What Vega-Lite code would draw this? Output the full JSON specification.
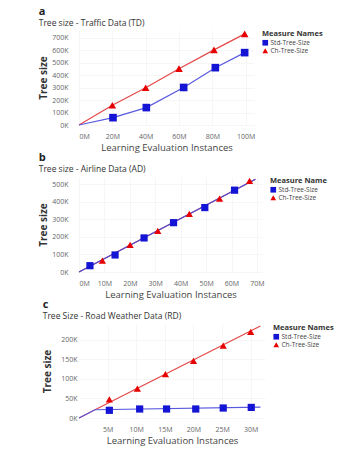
{
  "$schema": "https://vega.github.io/schema/vega-lite/v6.json",
  "background": "white",
  "padding": {"left": 38, "top": 5, "right": 2, "bottom": 2},
  "config": {
    "font": "Open Sans",
    "view": {"stroke": null},
    "axis": {
      "domain": false,
      "ticks": false,
      "labelColor": "#666666",
      "labelFontSize": 7,
      "gridColor": "#f4f4f4",
      "gridWidth": 0.8,
      "titleColor": "#333333",
      "titleFontWeight": "bold"
    },
    "axisX": {"titleFontSize": 9.5, "titleFontWeight": 500, "titleColor": "#444444", "labelPadding": 7, "titlePadding": 3},
    "axisY": {"titleFontSize": 10, "titlePadding": 3},
    "legend": {
      "titleFontSize": 7.5,
      "titleColor": "#333333",
      "titleFontWeight": "bold",
      "labelFontSize": 6.5,
      "labelColor": "#444444",
      "symbolSize": 32,
      "rowPadding": 1,
      "titlePadding": 2,
      "offset": 8,
      "labelOffset": 2,
      "symbolStrokeWidth": 0
    },
    "title": {
      "anchor": "start",
      "frame": "bounds",
      "fontSize": 11,
      "fontWeight": "bold",
      "color": "#222222",
      "subtitleFontSize": 8.5,
      "subtitleColor": "#333333",
      "subtitlePadding": 2,
      "offset": 3
    }
  },
  "datasets": {
    "points": [
      {"panel": "a", "series": "Std-Tree-Size", "instances": 20400000, "size": 59000},
      {"panel": "a", "series": "Std-Tree-Size", "instances": 40400000, "size": 140000},
      {"panel": "a", "series": "Std-Tree-Size", "instances": 62800000, "size": 302000},
      {"panel": "a", "series": "Std-Tree-Size", "instances": 81800000, "size": 461000},
      {"panel": "a", "series": "Std-Tree-Size", "instances": 99400000, "size": 582000},
      {"panel": "a", "series": "Ch-Tree-Size", "instances": 20000000, "size": 159000},
      {"panel": "a", "series": "Ch-Tree-Size", "instances": 40000000, "size": 299000},
      {"panel": "a", "series": "Ch-Tree-Size", "instances": 60000000, "size": 453000},
      {"panel": "a", "series": "Ch-Tree-Size", "instances": 81000000, "size": 604000},
      {"panel": "a", "series": "Ch-Tree-Size", "instances": 99400000, "size": 733000},
      {"panel": "b", "series": "Std-Tree-Size", "instances": 4300000, "size": 36000},
      {"panel": "b", "series": "Std-Tree-Size", "instances": 14200000, "size": 97000},
      {"panel": "b", "series": "Std-Tree-Size", "instances": 25600000, "size": 194000},
      {"panel": "b", "series": "Std-Tree-Size", "instances": 37200000, "size": 281000},
      {"panel": "b", "series": "Std-Tree-Size", "instances": 49500000, "size": 367000},
      {"panel": "b", "series": "Std-Tree-Size", "instances": 61200000, "size": 466000},
      {"panel": "b", "series": "Ch-Tree-Size", "instances": 9200000, "size": 65000},
      {"panel": "b", "series": "Ch-Tree-Size", "instances": 20100000, "size": 154000},
      {"panel": "b", "series": "Ch-Tree-Size", "instances": 31000000, "size": 234000},
      {"panel": "b", "series": "Ch-Tree-Size", "instances": 43400000, "size": 331000},
      {"panel": "b", "series": "Ch-Tree-Size", "instances": 55300000, "size": 418000},
      {"panel": "b", "series": "Ch-Tree-Size", "instances": 67100000, "size": 519000},
      {"panel": "c", "series": "Std-Tree-Size", "instances": 5300000, "size": 19600},
      {"panel": "c", "series": "Std-Tree-Size", "instances": 10600000, "size": 23000},
      {"panel": "c", "series": "Std-Tree-Size", "instances": 15300000, "size": 23000},
      {"panel": "c", "series": "Std-Tree-Size", "instances": 20400000, "size": 23000},
      {"panel": "c", "series": "Std-Tree-Size", "instances": 25200000, "size": 25500},
      {"panel": "c", "series": "Std-Tree-Size", "instances": 30100000, "size": 27000},
      {"panel": "c", "series": "Ch-Tree-Size", "instances": 5300000, "size": 47700},
      {"panel": "c", "series": "Ch-Tree-Size", "instances": 10200000, "size": 75000},
      {"panel": "c", "series": "Ch-Tree-Size", "instances": 15100000, "size": 112000},
      {"panel": "c", "series": "Ch-Tree-Size", "instances": 20000000, "size": 146000},
      {"panel": "c", "series": "Ch-Tree-Size", "instances": 25200000, "size": 185000},
      {"panel": "c", "series": "Ch-Tree-Size", "instances": 30000000, "size": 220000}
    ],
    "lines": [
      {"panel": "a", "series": "Std-Tree-Size", "instances": 0, "size": 0},
      {"panel": "a", "series": "Std-Tree-Size", "instances": 20400000, "size": 59000},
      {"panel": "a", "series": "Std-Tree-Size", "instances": 40400000, "size": 140000},
      {"panel": "a", "series": "Std-Tree-Size", "instances": 62800000, "size": 302000},
      {"panel": "a", "series": "Std-Tree-Size", "instances": 81800000, "size": 461000},
      {"panel": "a", "series": "Std-Tree-Size", "instances": 99400000, "size": 582000},
      {"panel": "a", "series": "Ch-Tree-Size", "instances": 0, "size": 0},
      {"panel": "a", "series": "Ch-Tree-Size", "instances": 20000000, "size": 159000},
      {"panel": "a", "series": "Ch-Tree-Size", "instances": 40000000, "size": 299000},
      {"panel": "a", "series": "Ch-Tree-Size", "instances": 60000000, "size": 453000},
      {"panel": "a", "series": "Ch-Tree-Size", "instances": 81000000, "size": 604000},
      {"panel": "a", "series": "Ch-Tree-Size", "instances": 99400000, "size": 733000},
      {"panel": "b", "series": "Ch-Tree-Size", "instances": 0, "size": 0},
      {"panel": "b", "series": "Ch-Tree-Size", "instances": 69400000, "size": 528000},
      {"panel": "b", "series": "Std-Tree-Size", "instances": 0, "size": 0},
      {"panel": "b", "series": "Std-Tree-Size", "instances": 69400000, "size": 528000},
      {"panel": "c", "series": "Ch-Tree-Size", "instances": 0, "size": 0},
      {"panel": "c", "series": "Ch-Tree-Size", "instances": 2800000, "size": 21000},
      {"panel": "c", "series": "Ch-Tree-Size", "instances": 31700000, "size": 235000},
      {"panel": "c", "series": "Std-Tree-Size", "instances": 0, "size": 0},
      {"panel": "c", "series": "Std-Tree-Size", "instances": 2800000, "size": 21000},
      {"panel": "c", "series": "Std-Tree-Size", "instances": 31700000, "size": 28000}
    ]
  },
  "vconcat": [
    {
      "title": {"text": "a", "subtitle": "Tree size - Traffic Data (TD)"},
      "width": 175,
      "height": 95,
      "encoding": {
        "x": {"field": "instances", "type": "quantitative", "scale": {"domain": [0, 105000000], "nice": false},
              "axis": {"title": "Learning Evaluation Instances", "values": [0, 20000000, 40000000, 60000000, 80000000, 100000000], "labelExpr": "datum.value / 1000000 + 'M'"}},
        "y": {"field": "size", "type": "quantitative", "scale": {"domain": [0, 764000], "nice": false},
              "axis": {"title": "Tree size", "values": [0, 100000, 200000, 300000, 400000, 500000, 600000, 700000], "labelExpr": "datum.value / 1000 + 'K'", "labelPadding": 11}}
      },
      "layer": [
        {"data": {"name": "lines"}, "transform": [{"filter": "datum.panel == 'a' && datum.series == 'Ch-Tree-Size'"}],
         "mark": {"type": "line", "color": "#e54848", "strokeWidth": 1.2}},
        {"data": {"name": "lines"}, "transform": [{"filter": "datum.panel == 'a' && datum.series == 'Std-Tree-Size'"}],
         "mark": {"type": "line", "color": "#5a5ae0", "strokeWidth": 1.2}},
        {"data": {"name": "points"}, "transform": [{"filter": "datum.panel == 'a'"}],
         "mark": {"type": "point", "filled": true, "opacity": 1, "size": 58},
         "encoding": {
           "color": {"field": "series", "type": "nominal", "title": "Measure Names",
                     "scale": {"domain": ["Std-Tree-Size", "Ch-Tree-Size"], "range": ["#1414d4", "#e60000"]}},
           "shape": {"field": "series", "type": "nominal", "title": "Measure Names",
                     "scale": {"domain": ["Std-Tree-Size", "Ch-Tree-Size"], "range": ["square", "triangle-up"]}}
         }}
      ]
    },
    {
      "title": {"text": "b", "subtitle": "Tree size - Airline Data (AD)"},
      "width": 183,
      "height": 95,
      "encoding": {
        "x": {"field": "instances", "type": "quantitative", "scale": {"domain": [0, 72000000], "nice": false},
              "axis": {"title": "Learning Evaluation Instances", "values": [0, 10000000, 20000000, 30000000, 40000000, 50000000, 60000000, 70000000], "labelExpr": "datum.value / 1000000 + 'M'"}},
        "y": {"field": "size", "type": "quantitative", "scale": {"domain": [0, 541000], "nice": false},
              "axis": {"title": "Tree size", "values": [0, 100000, 200000, 300000, 400000, 500000], "labelExpr": "datum.value / 1000 + 'K'", "labelPadding": 11}}
      },
      "layer": [
        {"data": {"name": "lines"}, "transform": [{"filter": "datum.panel == 'b' && datum.series == 'Ch-Tree-Size'"}],
         "mark": {"type": "line", "color": "#e54848", "strokeWidth": 1.2}},
        {"data": {"name": "lines"}, "transform": [{"filter": "datum.panel == 'b' && datum.series == 'Std-Tree-Size'"}],
         "mark": {"type": "line", "color": "#4a4ad8", "strokeWidth": 1.2}},
        {"data": {"name": "points"}, "transform": [{"filter": "datum.panel == 'b'"}],
         "mark": {"type": "point", "filled": true, "opacity": 1, "size": 52},
         "encoding": {
           "color": {"field": "series", "type": "nominal", "title": "Measure Name",
                     "scale": {"domain": ["Std-Tree-Size", "Ch-Tree-Size"], "range": ["#1414d4", "#e60000"]}},
           "shape": {"field": "series", "type": "nominal", "title": "Measure Name",
                     "scale": {"domain": ["Std-Tree-Size", "Ch-Tree-Size"], "range": ["square", "triangle-up"]}}
         }}
      ]
    },
    {
      "title": {"text": "c", "subtitle": "Tree Size - Road Weather Data (RD)"},
      "width": 186,
      "height": 94,
      "encoding": {
        "x": {"field": "instances", "type": "quantitative", "scale": {"domain": [0, 32500000], "nice": false},
              "axis": {"title": "Learning Evaluation Instances", "values": [5000000, 10000000, 15000000, 20000000, 25000000, 30000000], "labelExpr": "datum.value / 1000000 + 'M'"}},
        "y": {"field": "size", "type": "quantitative", "scale": {"domain": [0, 240000], "nice": false},
              "axis": {"title": "Tree size", "values": [0, 50000, 100000, 150000, 200000], "labelExpr": "datum.value / 1000 + 'K'", "labelPadding": 2, "titlePadding": 8}}
      },
      "layer": [
        {"data": {"name": "lines"}, "transform": [{"filter": "datum.panel == 'c' && datum.series == 'Ch-Tree-Size'"}],
         "mark": {"type": "line", "color": "#e54848", "strokeWidth": 1.2}},
        {"data": {"name": "lines"}, "transform": [{"filter": "datum.panel == 'c' && datum.series == 'Std-Tree-Size'"}],
         "mark": {"type": "line", "color": "#5a5ae0", "strokeWidth": 1.2}},
        {"data": {"name": "points"}, "transform": [{"filter": "datum.panel == 'c'"}],
         "mark": {"type": "point", "filled": true, "opacity": 1, "size": 52},
         "encoding": {
           "color": {"field": "series", "type": "nominal", "title": "Measure Names",
                     "scale": {"domain": ["Std-Tree-Size", "Ch-Tree-Size"], "range": ["#1414d4", "#e60000"]}},
           "shape": {"field": "series", "type": "nominal", "title": "Measure Names",
                     "scale": {"domain": ["Std-Tree-Size", "Ch-Tree-Size"], "range": ["square", "triangle-up"]}}
         }}
      ]
    }
  ],
  "align": "none",
  "spacing": 0,
  "resolve": {"scale": {"color": "independent", "shape": "independent"}}
}
